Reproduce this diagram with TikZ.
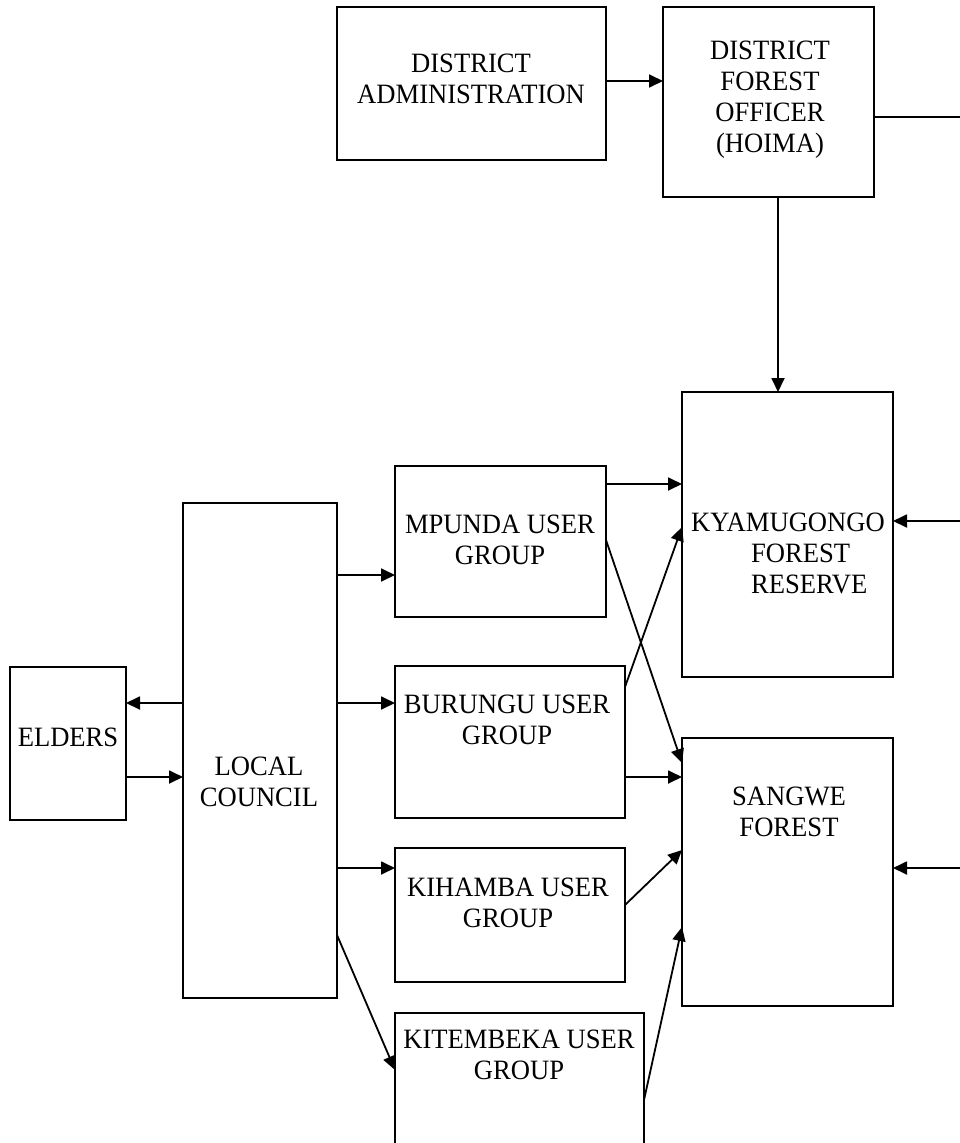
\documentclass[tikz,border=0pt]{standalone}
\usepackage{fontspec}
\setmainfont{Liberation Serif}[FakeStretch=0.95]
\usetikzlibrary{arrows.meta}
\tikzset{
  box/.style={draw, line width=2pt, inner sep=0pt, outer sep=0pt},
  lbl/.style={inner sep=0pt, align=center, font=\fontsize{28}{31}\selectfont},
  conn/.style={line width=1.8pt, -{Triangle[length=14pt,width=13pt]}},
  plain/.style={line width=1.8pt}
}
\begin{document}
\begin{tikzpicture}[x=1pt,y=-1pt]
\useasboundingbox (0,0) rectangle (960,1143);
% boxes
\node[box, minimum width=269pt, minimum height=153pt] (da) at (471.5,83.5) {};
\node[box, minimum width=211pt, minimum height=190pt] (dfo) at (768.5,102) {};
\node[box, minimum width=211pt, minimum height=285pt] (kyam) at (787.5,534.5) {};
\node[box, minimum width=211pt, minimum height=268pt] (sang) at (787.5,872) {};
\node[box, minimum width=211pt, minimum height=151pt] (mp) at (500.5,541.5) {};
\node[box, minimum width=230pt, minimum height=152pt] (bu) at (510,742) {};
\node[box, minimum width=230pt, minimum height=134pt] (kih) at (510,915) {};
\node[box, minimum width=249pt, minimum height=160pt] (kit) at (519.5,1093) {};
\node[box, minimum width=154pt, minimum height=495pt] (lc) at (260,750.5) {};
\node[box, minimum width=116pt, minimum height=153pt] (el) at (68,743.5) {};
% texts
\node[lbl] (daT) at (471,79) {DISTRICT\\ADMINISTRATION};
\node[lbl] (dfoT) at (770,100) {DISTRICT\\FOREST\\OFFICER\\(HOIMA)};
\node[lbl, align=left, anchor=west] (kyamT) at (691,553) {KYAMUGONGO\\\hspace*{60pt}FOREST\\\hspace*{60pt}RESERVE};
\node[lbl] (sangT) at (789,812) {SANGWE\\FOREST};
\node[lbl] (mpT) at (500,540) {MPUNDA USER\\GROUP};
\node[lbl] (buT) at (507,720) {BURUNGU USER\\GROUP};
\node[lbl] (kihT) at (508,903) {KIHAMBA USER\\GROUP};
\node[lbl] (kitT) at (519,1055) {KITEMBEKA USER\\GROUP};
\node[lbl] (lcT) at (259,782) {LOCAL\\COUNCIL};
\node[lbl] (elT) at (68,737) {ELDERS};
% points on the right edge of the picture
\coordinate (r1) at (960,117);
\coordinate (r2) at (960,521);
\coordinate (r3) at (960,868);
% connectors
\draw[conn] (da.east |- 0,81) -- (dfo.west |- 0,81);
\draw[conn] (dfo.south -| 778,0) -- (kyam.north -| 778,0);
\draw[plain] (dfo.east |- 0,117) -- (r1);
\draw[conn] (r2) -- (kyam.east |- r2);
\draw[conn] (r3) -- (sang.east |- r3);
\draw[conn] (lc.west |- 0,703) -- (el.east |- 0,703);
\draw[conn] (el.east |- 0,777) -- (lc.west |- 0,777);
\draw[conn] (lc.east |- 0,575) -- (mp.west |- 0,575);
\draw[conn] (lc.east |- 0,703) -- (bu.west |- 0,703);
\draw[conn] (lc.east |- 0,868) -- (kih.west |- 0,868);
\draw[conn] (lc.east |- 0,935) -- (kit.west |- 0,1070);
\draw[conn] (mp.east |- 0,484) -- (kyam.west |- 0,484);
\draw[conn] (mp.east |- 0,540) -- (sang.west |- 0,763);
\draw[conn] (bu.east |- 0,687) -- (kyam.west |- 0,527);
\draw[conn] (bu.east |- 0,777) -- (sang.west |- 0,777);
\draw[conn] (kih.east |- 0,905) -- (sang.west |- 0,850);
\draw[conn] (kit.east |- 0,1100) -- (sang.west |- 0,927);
\end{tikzpicture}
\end{document}
